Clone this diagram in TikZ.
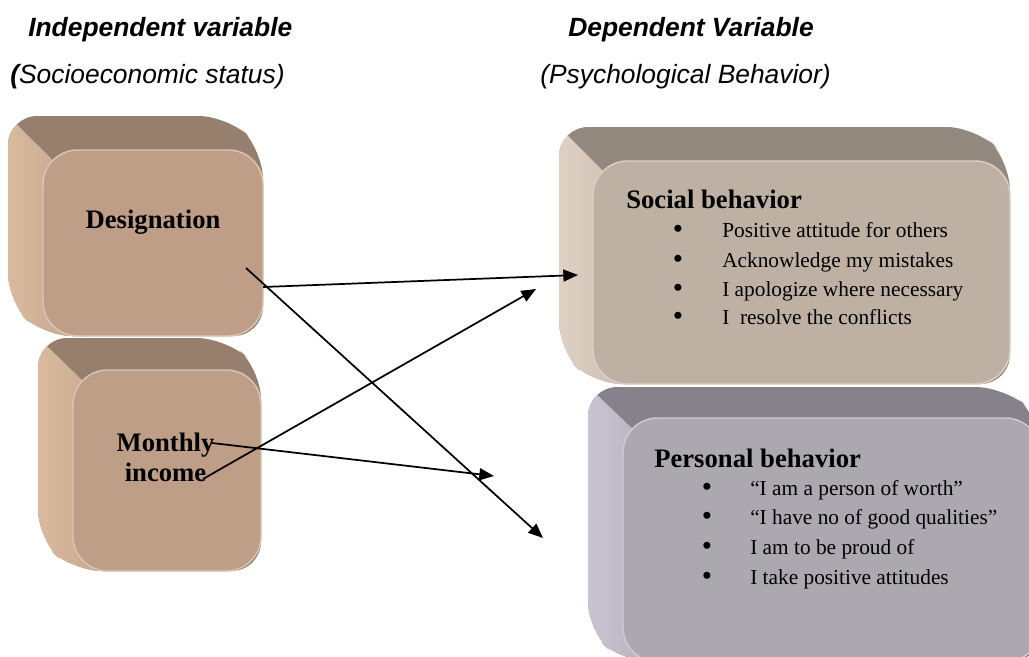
\documentclass[tikz,border=0pt]{standalone}
\usepackage{fontspec}
\setmainfont{Liberation Serif}
\setsansfont{Liberation Sans}
\usetikzlibrary{arrows.meta}
\definecolor{desFront}{RGB}{190,158,134}
\definecolor{desTop}{RGB}{150,127,108}
\definecolor{desLeftA}{RGB}{224,192,162}
\definecolor{desLeftB}{RGB}{196,165,140}
\definecolor{socFront}{RGB}{190,177,164}
\definecolor{socTop}{RGB}{148,137,127}
\definecolor{socLeftA}{RGB}{228,214,200}
\definecolor{socLeftB}{RGB}{202,188,174}
\definecolor{perFront}{RGB}{172,168,176}
\definecolor{perTop}{RGB}{134,129,139}
\definecolor{perLeftA}{RGB}{206,200,216}
\definecolor{perLeftB}{RGB}{180,175,188}
% #1 bx1, #2 by1, #3 dx, #4 dy, #5 fx2, #6 fy2, #7 colour prefix
\newcommand{\bevelbox}[7]{%
  \fill[#7Top, rounded corners=22] (#1,#2) -- ({#5-#3},#2) -- (#5,{#2+#4}) -- (#5,#6) -- ({#1+#3},#6) -- (#1,{#6-#4}) -- cycle;
  \begin{scope}
    \clip[rounded corners=22] (#1,#2) -- ({#5-#3},#2) -- (#5,{#2+#4}) -- (#5,#6) -- ({#1+#3},#6) -- (#1,{#6-#4}) -- cycle;
    \shade[left color=#7LeftA, right color=#7LeftB] ({#1-20},{#2-20}) -- ({#1+#3+40},{#2+#4+40}) -- ({#1+#3+40},{#6+20}) -- ({#1-20},{#6+20}) -- cycle;
  \end{scope}
  \fill[#7Front, rounded corners=26] ({#1+#3},{#2+#4}) rectangle (#5,#6);
  \draw[#7Front!60!white, line width=1.1pt, rounded corners=26] ({#1+#3},{#2+#4}) rectangle (#5,#6);
}
\tikzset{
  hd/.style={font=\sffamily\bfseries\itshape\fontsize{19.8}{23}\selectfont, anchor=base west, inner sep=0pt},
  sub/.style={font=\sffamily\itshape\fontsize{19.8}{23}\selectfont, anchor=base west, inner sep=0pt},
  boxlabel/.style={font=\bfseries\fontsize{20}{24}\selectfont, anchor=base, inner sep=0pt},
  listhead/.style={font=\bfseries\fontsize{20}{24}\selectfont, anchor=base west, inner sep=0pt},
  item/.style={font=\fontsize{16}{19}\selectfont, anchor=base west, inner sep=0pt},
  bul/.style={font=\fontsize{22}{24}\selectfont, anchor=base, inner sep=0pt},
  arr/.style={-{Triangle[length=11pt,width=9pt]}, line width=1.3pt, black}
}
\begin{document}
\begin{tikzpicture}[x=0.75pt, y=-0.75pt]
\clip (0,0) rectangle (1029,657);
\fill[white] (0,0) rectangle (1029,657);

% headings
\node[hd] (iv) at (28,36) {Independent variable};
\node[sub] (ivs) at (10,83) {{\bfseries(}Socioeconomic status)};
\node[hd] (dv) at (568,36) {Dependent Variable};
\node[sub] (dvs) at (540,83) {(Psychological Behavior)};

% boxes
\bevelbox{8}{116}{35}{34}{263}{336}{des}
\bevelbox{38}{338}{35}{32}{261}{571}{des}
\bevelbox{559}{127}{34}{34}{1010}{384}{soc}
\bevelbox{588}{387}{35}{31}{1040}{662}{per}

% left labels
\node[boxlabel] (desig) at (153,228) {Designation};
\node[boxlabel] (mon1) at (165.5,451) {Monthly};
\node[boxlabel] (mon2) at (165.5,481) {income};

% social behaviour
\node[listhead] (sochd) at (626,208) {Social behavior};
\foreach \y/\t [count=\i] in {237/{Positive attitude for others},
                              267/{Acknowledge my mistakes},
                              296/{I apologize where necessary},
                              324/{I~ resolve the conflicts}} {
  \node[bul] (sb\i) at (678,\y+1) {\textbullet};
  \node[item] (st\i) at (722,\y) {\t};
}

% personal behaviour
\node[listhead] (perhd) at (654,467) {Personal behavior};
\foreach \y/\t [count=\i] in {495/{“I am a person of worth”},
                              524/{“I have no of good qualities”},
                              554/{I am to be proud of},
                              584/{I take positive attitudes}} {
  \node[bul] (pb\i) at (707,\y+1) {\textbullet};
  \node[item] (pt\i) at (750,\y) {\t};
}

% arrow end points
\coordinate (dA) at (263,287);
\coordinate (dB) at (246,268);
\coordinate (mA) at (212,443);
\coordinate (mB) at (203,479);
\coordinate (sA) at (578,275);
\coordinate (sB) at (536,289);
\coordinate (pA) at (494,476);
\coordinate (pB) at (543,538);

\draw[arr] (dA) -- (sA);
\draw[arr] (dB) -- (pB);
\draw[arr] (mB) -- (sB);
\draw[arr] (mA) -- (pA);
\end{tikzpicture}
\end{document}
